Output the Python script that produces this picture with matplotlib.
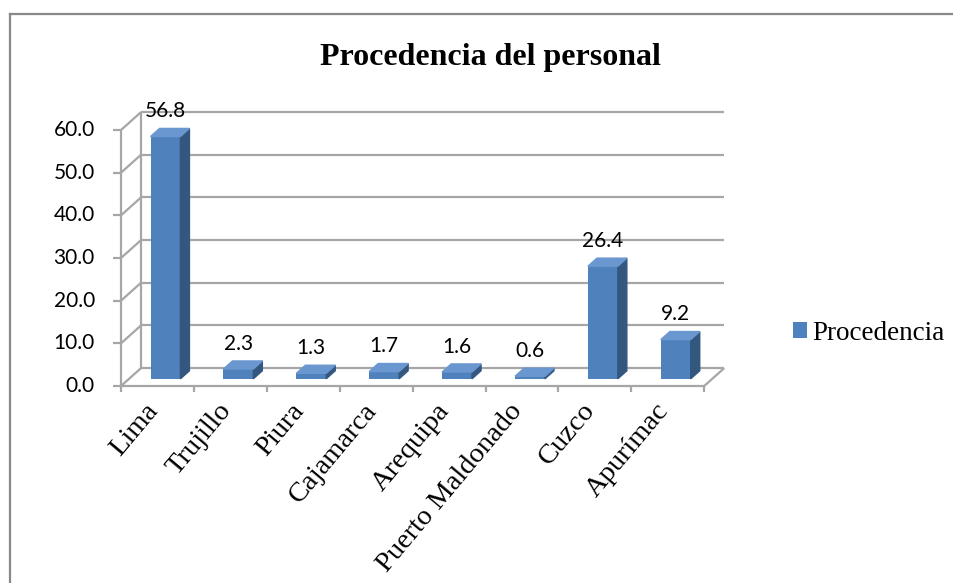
import matplotlib
matplotlib.use("Agg")
import matplotlib.pyplot as plt
from matplotlib.lines import Line2D

# data
categorias = ['Lima', 'Trujillo', 'Piura', 'Cajamarca', 'Arequipa',
              'Puerto Maldonado', 'Cuzco', 'Apurímac']
procedencia = [56.8, 2.3, 1.3, 1.7, 1.6, 0.6, 26.4, 9.2]
yticks = [0, 10, 20, 30, 40, 50, 60]
serie = 'Procedencia'

# pseudo 3d depth of the floor/back wall, in data units (x: category, y: value)
DX, DY = 0.275, 4.2
n = len(categorias)
x0, x1 = -0.5, n - 0.5
grid_c = '#a6a6a6'
front_c = '#4f81bd'
side_c = '#34577f'
top_c = '#6a97cf'

fig = plt.figure(figsize=(9.54, 5.83), dpi=100)
ax = fig.add_axes([0.08863, 0.31595, 0.68774, 0.50497])
ax.set_xlim(-1, 8)
ax.set_ylim(-3, 66)
ax.axis('off')

kw = dict(color=grid_c, lw=1.6, clip_on=False, solid_capstyle='butt')
# back wall gridlines + left wall diagonals
for t in yticks:
    ax.plot([x0 + DX, x1 + DX], [t + DY, t + DY], **kw)
    ax.plot([x0, x0 + DX], [t, t + DY], **kw)
    ax.plot([x0 - 0.11, x0], [t, t], **kw)
    ax.text(x0 - 0.36, t, '%.1f' % t, ha='right', va='center',
            fontsize=15, family='Lato')
ax.plot([x0, x0], [0, yticks[-1]], **kw)
ax.plot([x0 + DX, x0 + DX], [DY, yticks[-1] + DY], **kw)
# floor
ax.plot([x0, x1], [0, 0], **kw)
ax.plot([x1, x1 + DX], [0, DY], **kw)
for i in range(n + 1):
    ax.plot([x0 + i, x0 + i], [0, -1.4], **kw)

# bars
w = 0.41
d0, d1 = 0.4, 0.85
xs = list(range(n))
ox, oy = d0 * DX, d0 * DY
ex, ey = (d1 - d0) * DX, (d1 - d0) * DY
bars = ax.bar([x + ox for x in xs], procedencia, width=w, bottom=oy,
              color=front_c, zorder=3, clip_on=False)
for x, v in zip(xs, procedencia):
    l = x + ox - w / 2
    r = x + ox + w / 2
    top = v + oy
    ax.fill([r, r + ex, r + ex, r], [oy, oy + ey, top + ey, top],
            color=side_c, zorder=3, clip_on=False)
    ax.fill([l, r, r + ex, l + ex], [top, top, top + ey, top + ey],
            color=top_c, zorder=3, clip_on=False)
    ax.text(x + ox, top + 5.9, '%.1f' % v, ha='center', va='center',
            fontsize=15, family='Lato', zorder=4)

for x, c in zip(xs, categorias):
    ax.text(x + 0.08, -2.9, c, rotation=50, ha='right', va='top',
            fontsize=20.5, family='Liberation Serif')

fig.text(490 / 954, 1 - 57 / 583, 'Procedencia del personal', ha='center',
         va='center', fontsize=23, fontweight='bold', family='Liberation Serif')

fig.legend([bars], [serie], loc='center left',
           bbox_to_anchor=(793 / 954, 1 - 333 / 583), frameon=False,
           prop={'family': 'Liberation Serif', 'size': 19.5},
           handlelength=0.52, handleheight=0.52, handletextpad=0.2,
           borderpad=0, borderaxespad=0)

# outer border (only top and left visible in the crop)
fig.add_artist(Line2D([10 / 954, 1], [1 - 14 / 583] * 2, color='#888888', lw=1.6))
fig.add_artist(Line2D([10 / 954] * 2, [0, 1 - 14 / 583], color='#888888', lw=1.6))

fig.savefig('out.png', dpi=100)
